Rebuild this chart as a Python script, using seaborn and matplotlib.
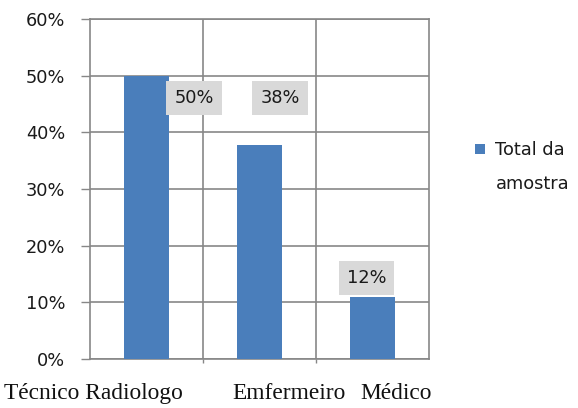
import matplotlib
matplotlib.use("Agg")
import matplotlib.pyplot as plt
import matplotlib.transforms as mtransforms
from matplotlib.patches import Patch
from matplotlib.ticker import FixedLocator, PercentFormatter
import seaborn as sns
import pandas as pd

# ---- data ----
categories = ["Técnico Radiologo", "Emfermeiro", "Médico"]
values = [0.50, 0.378, 0.11]
value_labels = ["50%", "38%", "12%"]
series_name = "Total da\namostra"
y_ticks = [0.0, 0.1, 0.2, 0.3, 0.4, 0.5, 0.6]

# ---- layout / style ----
bar_color = "#4a7ebb"
grid_color = "#878787"
label_box_color = "#d9d9d9"
label_dx = [0.42, 0.18, -0.053]      # label box offsets from category centre (data units)
label_y = [0.461, 0.461, 0.143]      # label box centres (axis value units)
xlabel_shift_px = [-53, 30, 24]      # horizontal shift of category labels (pixels)

sns.set_theme(style="white")
plt.rcParams["font.family"] = ["DejaVu Sans"]

df = pd.DataFrame({"cat": categories, "val": values})

fig = plt.figure(figsize=(5.78, 4.08), dpi=100)
ax = fig.add_axes([90 / 578, 49 / 408, 339 / 578, 340 / 408])

sns.barplot(data=df, x="cat", y="val", color=bar_color, saturation=1,
            width=0.39, ax=ax, zorder=3)
for p in ax.patches:
    p.set_edgecolor("none")

ax.set_xlim(-0.5, 2.5)
ax.set_ylim(0, 0.6)
ax.set_xlabel("")
ax.set_ylabel("")

# y axis
ax.yaxis.set_major_locator(FixedLocator(y_ticks))
ax.yaxis.set_major_formatter(PercentFormatter(1.0, decimals=0))
ax.tick_params(axis="y", which="major", left=True, length=6.5, width=1.0,
               color=grid_color, pad=11.5, labelsize=12.8, labelcolor="#1a1a1a")
ax.yaxis.grid(True, color=grid_color, linewidth=1.2, zorder=0)

# x axis: boundaries as minor ticks with vertical grid
ax.set_xticks([0.5, 1.5], minor=True)
ax.xaxis.grid(True, which="minor", color=grid_color, linewidth=1.2, zorder=0)
ax.xaxis.grid(False, which="major")
ax.tick_params(axis="x", which="minor", bottom=True, length=3, width=1.0,
               color=grid_color)
ax.tick_params(axis="x", which="major", bottom=False, length=0, pad=17)
ax.set_axisbelow(True)

ax.set_xticks(range(len(categories)))
ax.set_xticklabels(categories, fontfamily="Liberation Serif", fontsize=16.8,
                   color="#111111")
for lab, dx in zip(ax.get_xticklabels(), xlabel_shift_px):
    lab.set_transform(lab.get_transform() +
                      mtransforms.ScaledTranslation(dx / 100, 0, fig.dpi_scale_trans))

for side in ["left", "right", "top", "bottom"]:
    ax.spines[side].set_visible(True)
    ax.spines[side].set_color(grid_color)
    ax.spines[side].set_linewidth(1.2)

# value labels with grey boxes
for i, (txt, dx, yy) in enumerate(zip(value_labels, label_dx, label_y)):
    ax.text(i + dx, yy, txt, ha="center", va="center", fontsize=12.8,
            color="#1a1a1a", zorder=5,
            bbox=dict(boxstyle="square,pad=0.45", facecolor=label_box_color,
                      edgecolor="none"))

# legend
first, second = series_name.split("\n")
handles = [Patch(facecolor=bar_color, edgecolor="none"),
           Patch(facecolor="none", edgecolor="none")]
fig.legend(handles, [first, second], loc="upper left",
           bbox_to_anchor=(475 / 578, 1 - 141 / 408), frameon=False,
           fontsize=12.8, handlelength=0.55, handleheight=0.5,
           handletextpad=0.6, borderpad=0, borderaxespad=0, labelspacing=0.9,
           labelcolor="#1a1a1a")

fig.savefig("out.png", dpi=100, facecolor="white")
